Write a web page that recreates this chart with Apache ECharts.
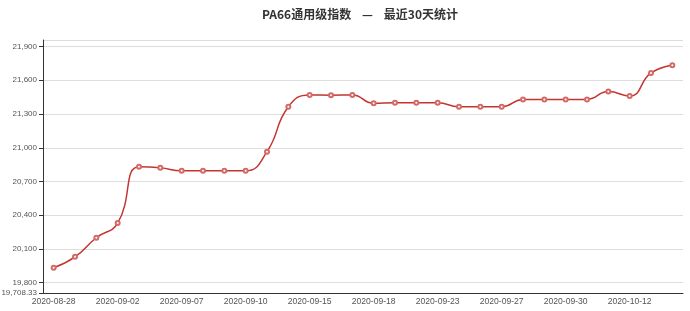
<!DOCTYPE html>
<html><head><meta charset="utf-8">
<script src="https://cdn.jsdelivr.net/npm/echarts@6/dist/echarts.min.js"></script>
<style>html,body{margin:0;padding:0;background:#fff}#c{width:690px;height:311px}</style>
</head><body><div id="c"></div>
<script>
const categories = ['2020-08-28','2020-08-31','2020-09-01','2020-09-02','2020-09-03','2020-09-04','2020-09-07','2020-09-08','2020-09-09','2020-09-10','2020-09-11','2020-09-14','2020-09-15','2020-09-16','2020-09-17','2020-09-18','2020-09-21','2020-09-22','2020-09-23','2020-09-24','2020-09-25','2020-09-27','2020-09-28','2020-09-29','2020-09-30','2020-10-09','2020-10-10','2020-10-12','2020-10-13','2020-10-14'];
const values = [19933.33,20030,20200,20330,20830,20822,20795,20795,20795,20795,20965,21365,21470,21468,21470,21395,21400,21400,21400,21365,21365,21365,21430,21430,21430,21430,21500,21460,21665,21733.33];
const titleText = 'PA66通用级指数    —    最近30天统计';
const yMin = 19708.33, yMax = 21958.33;

const chart = echarts.init(document.getElementById('c'));
chart.setOption({
  animation:false,
  title:{text:titleText,left:257,top:3,textStyle:{fontSize:12,fontWeight:'bold',color:'#333',fontFamily:'Noto Sans CJK SC'}},
  grid:{left:43,right:7,top:40,bottom:18,containLabel:false,outerBoundsMode:'none'},
  xAxis:{type:'category',data:categories,boundaryGap:true,
    axisLine:{lineStyle:{color:'#333',width:1}},
    axisTick:{length:3,interval:function(i){return i%3===2;},lineStyle:{color:'#aaa'}},
    axisLabel:{interval:2,fontSize:8.6,color:'#555',margin:4,fontFamily:'Liberation Sans'}},
  yAxis:{type:'value',min:yMin,max:yMax,splitNumber:8,
    axisLine:{show:true,lineStyle:{color:'#333'}},
    axisTick:{show:true,length:4,lineStyle:{color:'#333'}},
    axisLabel:{fontSize:8,color:'#555',margin:6,showMaxLabel:false,showMinLabel:true,fontFamily:'Liberation Sans'},
    splitLine:{lineStyle:{color:'#ddd'}}},
  series:[{type:'line',data:values,smooth:true,symbol:'emptyCircle',symbolSize:4,
    lineStyle:{color:'#c23531',width:1.5},
    itemStyle:{color:'#d46a67',borderWidth:1}}]
});
</script></body></html>
